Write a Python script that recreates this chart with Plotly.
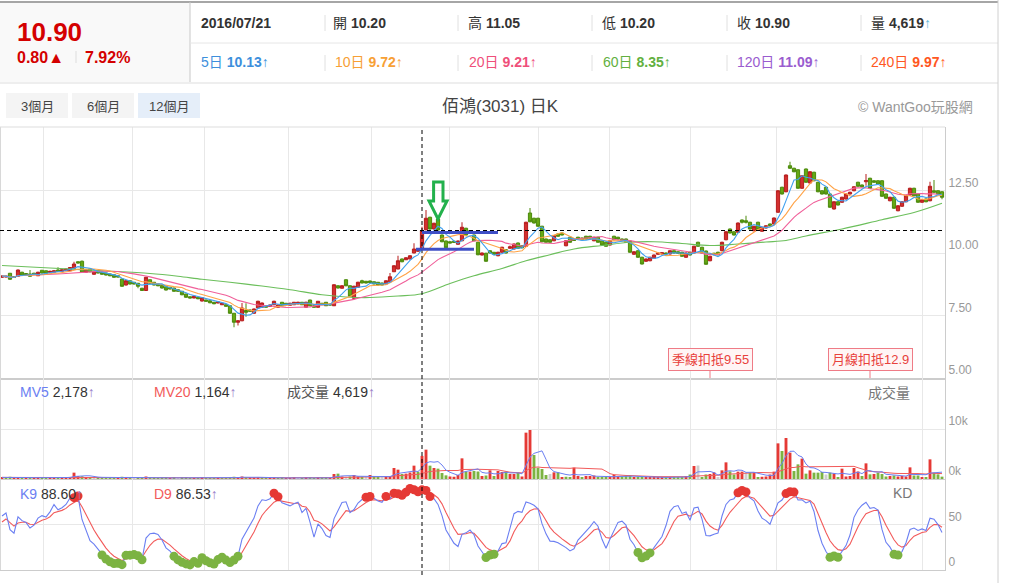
import pandas as pd
import plotly.graph_objects as go
from plotly.subplots import make_subplots

# 佰鴻(3031) daily candles, about one year
opens = [
    9.03, 9.04, 9.19, 9.06, 9.07, 9.23, 9.18, 9.16, 9.19, 9.09,
    9.31, 9.29, 9.22, 9.23, 9.32, 9.27, 9.29, 9.29, 9.39, 9.65,
    9.67, 9.23, 9.36, 9.15, 9.29, 9.23, 9.20, 9.16, 9.13, 9.09,
    8.96, 8.72, 8.89, 8.83, 8.79, 8.59, 8.50, 8.93, 8.83, 8.76,
    8.70, 8.65, 8.63, 8.60, 8.53, 8.47, 8.36, 8.25, 8.20, 8.23,
    8.08, 8.12, 8.09, 8.03, 8.00, 7.93, 7.93, 7.89, 7.59, 7.23,
    7.29, 7.70, 7.72, 7.59, 7.80, 7.83, 7.90, 7.86, 7.93, 7.83,
    8.03, 7.99, 7.91, 7.93, 7.96, 8.03, 7.83, 8.12, 7.89, 7.83,
    7.99, 8.03, 7.96, 7.89, 8.69, 8.59, 8.93, 8.69, 8.19, 8.63,
    8.89, 8.87, 8.88, 8.85, 8.83, 8.80, 8.76, 8.85, 9.25, 9.36,
    9.76, 9.73, 9.76, 10.00, 10.07, 10.20, 10.93, 11.43, 10.96, 11.36,
    10.72, 10.48, 10.45, 10.47, 10.35, 10.49, 10.99, 10.89, 10.72, 10.43,
    9.92, 9.99, 10.09, 10.03, 9.89, 10.03, 10.13, 10.19, 10.16, 10.40,
    10.29, 10.27, 11.60, 11.39, 11.39, 11.07, 10.56, 10.53, 10.49, 10.76,
    10.80, 10.29, 10.63, 10.56, 10.63, 10.60, 10.67, 10.67, 10.49, 10.63,
    10.49, 10.43, 10.32, 10.67, 10.63, 10.56, 10.56, 10.48, 9.95, 10.09,
    9.83, 9.67, 9.69, 9.79, 9.95, 9.96, 10.00, 9.96, 10.09, 10.05,
    10.03, 9.83, 10.03, 10.00, 10.43, 10.23, 10.08, 9.69, 9.99, 10.03,
    10.09, 10.53, 10.96, 10.85, 10.83, 11.32, 11.29, 11.23, 10.89, 11.23,
    10.87, 11.00, 11.16, 11.16, 11.63, 12.63, 12.45, 13.49, 13.39, 13.33,
    12.59, 13.36, 12.80, 13.23, 12.83, 12.49, 12.63, 12.36, 11.76, 12.05,
    12.03, 12.16, 12.36, 12.49, 12.83, 12.72, 12.85, 12.99, 12.89, 12.89,
    12.89, 12.36, 12.09, 12.23, 11.69, 11.87, 12.05, 12.32, 12.59, 12.36,
    12.03, 12.16, 12.09, 12.49, 12.49, 12.45,
]
highs = [
    9.10, 9.10, 9.20, 9.08, 9.34, 9.25, 9.20, 9.32, 9.21, 9.25,
    9.32, 9.30, 9.29, 9.31, 9.43, 9.35, 9.38, 9.44, 9.65, 9.67,
    9.70, 9.34, 9.37, 9.27, 9.30, 9.25, 9.21, 9.18, 9.14, 9.10,
    8.97, 8.91, 8.90, 8.84, 8.80, 8.61, 9.05, 8.94, 8.84, 8.77,
    8.72, 8.66, 8.64, 8.61, 8.54, 8.48, 8.37, 8.26, 8.28, 8.24,
    8.22, 8.13, 8.10, 8.04, 8.06, 8.00, 7.94, 7.90, 7.60, 7.31,
    8.00, 7.99, 7.74, 7.78, 8.09, 8.02, 7.92, 7.94, 8.09, 7.94,
    8.04, 8.00, 8.01, 8.04, 8.05, 8.04, 8.05, 8.13, 7.90, 8.08,
    8.00, 8.04, 7.97, 8.75, 8.71, 8.71, 8.95, 8.70, 8.69, 8.85,
    8.93, 8.88, 8.90, 8.86, 8.84, 8.81, 8.90, 9.20, 9.51, 9.89,
    9.78, 9.83, 9.91, 10.39, 10.12, 11.05, 11.72, 11.45, 11.21, 11.38,
    10.74, 10.50, 10.47, 10.49, 10.50, 11.23, 11.01, 10.91, 10.74, 10.45,
    10.02, 10.01, 10.11, 10.04, 10.05, 10.25, 10.15, 10.30, 10.38, 10.42,
    10.31, 11.25, 11.80, 11.41, 11.41, 11.09, 10.58, 10.55, 10.71, 10.78,
    10.82, 10.51, 10.65, 10.58, 10.65, 10.62, 10.69, 10.69, 10.65, 10.65,
    10.51, 10.45, 10.51, 10.69, 10.65, 10.58, 10.58, 10.50, 10.07, 10.11,
    9.85, 9.78, 9.85, 9.94, 10.02, 10.03, 10.02, 10.11, 10.11, 10.07,
    10.05, 10.02, 10.05, 10.29, 10.45, 10.25, 10.10, 9.89, 10.01, 10.05,
    10.45, 10.87, 10.98, 10.87, 11.22, 11.34, 11.49, 11.25, 11.09, 11.25,
    11.05, 11.11, 11.18, 11.42, 12.51, 12.65, 13.14, 13.65, 13.41, 13.35,
    13.11, 13.38, 13.27, 13.25, 12.85, 12.51, 12.65, 12.38, 12.07, 12.07,
    12.25, 12.38, 12.45, 12.67, 12.85, 12.74, 13.16, 13.01, 12.91, 12.91,
    12.91, 12.38, 12.25, 12.25, 11.91, 12.07, 12.31, 12.61, 12.61, 12.38,
    12.15, 12.18, 12.85, 12.92, 12.51, 12.47,
]
lows = [
    9.00, 9.02, 8.93, 9.00, 9.05, 9.10, 9.12, 9.05, 9.14, 9.08,
    9.18, 9.18, 9.21, 9.22, 9.25, 9.26, 9.28, 9.28, 9.38, 9.58,
    9.21, 9.22, 9.23, 9.13, 9.18, 9.13, 9.10, 9.07, 9.01, 9.02,
    8.65, 8.70, 8.74, 8.74, 8.59, 8.48, 8.48, 8.77, 8.70, 8.67,
    8.58, 8.50, 8.54, 8.45, 8.45, 8.31, 8.21, 8.18, 8.19, 8.15,
    8.06, 8.05, 7.99, 7.95, 7.99, 7.92, 7.85, 7.57, 7.03, 7.10,
    7.27, 7.45, 7.65, 7.57, 7.78, 7.81, 7.81, 7.85, 7.92, 7.82,
    7.87, 7.92, 7.90, 7.92, 7.95, 7.92, 7.82, 7.87, 7.82, 7.82,
    7.92, 7.88, 7.91, 7.88, 8.58, 8.58, 8.67, 8.25, 8.17, 8.62,
    8.79, 8.78, 8.80, 8.75, 8.70, 8.70, 8.75, 8.84, 9.24, 9.35,
    9.63, 9.72, 9.75, 9.99, 10.05, 10.20, 10.91, 10.94, 10.94, 10.90,
    10.43, 10.19, 10.38, 10.41, 10.33, 10.47, 10.70, 10.77, 10.47, 9.91,
    9.90, 9.65, 9.98, 9.93, 9.87, 10.01, 9.98, 10.17, 10.14, 10.17,
    10.19, 10.25, 11.23, 11.18, 11.05, 10.43, 10.41, 10.41, 10.47, 10.65,
    10.70, 10.27, 10.41, 10.48, 10.54, 10.51, 10.54, 10.57, 10.47, 10.41,
    10.30, 10.25, 10.30, 10.51, 10.54, 10.48, 10.41, 10.01, 9.93, 9.81,
    9.54, 9.65, 9.67, 9.77, 9.93, 9.94, 9.94, 9.94, 9.98, 9.97,
    9.85, 9.81, 9.90, 9.98, 10.25, 9.98, 9.53, 9.67, 9.91, 9.91,
    10.07, 10.51, 10.78, 10.70, 10.81, 11.18, 11.18, 10.94, 10.87, 10.91,
    10.85, 10.98, 11.07, 11.14, 11.61, 12.34, 12.43, 13.37, 13.23, 12.57,
    12.57, 12.81, 12.78, 12.87, 12.43, 12.34, 12.34, 11.81, 11.74, 11.90,
    12.01, 12.14, 12.34, 12.47, 12.65, 12.63, 12.69, 12.57, 12.81, 12.74,
    12.25, 12.17, 12.07, 11.77, 11.67, 11.85, 12.03, 12.30, 12.27, 12.01,
    12.01, 12.03, 12.07, 12.41, 12.34, 12.15,
]
closes = [
    9.08, 9.07, 8.95, 9.02, 9.32, 9.12, 9.13, 9.07, 9.16, 9.23,
    9.20, 9.19, 9.27, 9.29, 9.26, 9.33, 9.36, 9.42, 9.56, 9.60,
    9.23, 9.32, 9.25, 9.25, 9.20, 9.15, 9.12, 9.09, 9.03, 9.04,
    8.67, 8.89, 8.76, 8.76, 8.67, 8.50, 9.03, 8.79, 8.72, 8.69,
    8.60, 8.52, 8.56, 8.47, 8.47, 8.33, 8.23, 8.20, 8.27, 8.17,
    8.21, 8.07, 8.01, 7.97, 8.04, 7.99, 7.87, 7.59, 7.23, 7.29,
    7.80, 7.63, 7.67, 7.76, 8.07, 8.00, 7.83, 7.92, 8.07, 7.92,
    7.89, 7.93, 7.99, 8.03, 8.03, 7.93, 8.03, 7.89, 7.83, 8.07,
    7.93, 7.89, 7.92, 8.73, 8.60, 8.69, 8.69, 8.27, 8.67, 8.83,
    8.80, 8.80, 8.82, 8.76, 8.72, 8.72, 8.89, 9.05, 9.49, 9.69,
    9.65, 9.81, 9.89, 10.16, 10.10, 10.90, 11.39, 10.96, 11.19, 10.92,
    10.45, 10.21, 10.40, 10.43, 10.48, 11.03, 10.72, 10.79, 10.49, 9.93,
    10.00, 9.67, 10.00, 9.95, 10.03, 10.23, 10.00, 10.25, 10.36, 10.19,
    10.21, 11.23, 11.25, 11.20, 11.07, 10.45, 10.43, 10.43, 10.69, 10.67,
    10.72, 10.49, 10.43, 10.50, 10.56, 10.53, 10.56, 10.59, 10.63, 10.43,
    10.32, 10.27, 10.49, 10.53, 10.56, 10.50, 10.43, 10.03, 10.05, 9.83,
    9.56, 9.76, 9.83, 9.92, 10.00, 10.01, 9.96, 10.09, 10.00, 9.99,
    9.87, 10.00, 9.92, 10.27, 10.27, 10.00, 9.55, 9.87, 9.93, 9.93,
    10.43, 10.85, 10.80, 10.72, 11.20, 11.23, 11.23, 10.96, 11.07, 10.93,
    11.03, 11.09, 11.10, 11.40, 12.49, 12.36, 13.12, 13.39, 13.25, 12.59,
    13.09, 12.83, 13.25, 12.89, 12.45, 12.36, 12.36, 11.83, 12.05, 11.92,
    12.23, 12.36, 12.43, 12.65, 12.67, 12.65, 12.90, 12.59, 12.83, 12.76,
    12.27, 12.19, 12.23, 11.79, 11.89, 12.05, 12.29, 12.59, 12.29, 12.03,
    12.13, 12.05, 12.67, 12.43, 12.36, 12.23,
]
volumes = [
    320, 280, 450, 260, 380, 300, 220, 260, 240, 350,
    300, 260, 240, 280, 230, 260, 300, 420, 1270, 600,
    550, 400, 350, 330, 300, 280, 250, 230, 300, 220,
    450, 350, 260, 220, 280, 300, 500, 300, 220, 200,
    240, 260, 200, 230, 180, 260, 250, 200, 180, 170,
    240, 190, 200, 180, 160, 170, 190, 320, 450, 300,
    500, 380, 250, 260, 350, 300, 220, 200, 260, 200,
    230, 180, 200, 210, 190, 200, 260, 280, 190, 300,
    220, 250, 200, 1000, 1070, 500, 450, 500, 800, 500,
    450, 400, 800, 500, 400, 350, 600, 500, 2200, 1870,
    1000, 1070, 1300, 2670, 1470, 4619, 5870, 2670, 2200, 2070,
    1200, 730, 500, 450, 800, 4130, 1470, 1470, 1600, 1500,
    600, 700, 1730, 600, 1600, 1400, 1470, 1000, 1000, 1270,
    500, 9270, 9800, 4800, 2270, 2000, 800, 1000, 1330, 1330,
    400, 450, 400, 2270, 600, 300, 600, 600, 700, 400,
    350, 400, 350, 800, 600, 500, 650, 700, 400, 350,
    300, 400, 300, 350, 300, 350, 300, 400, 350, 300,
    400, 600, 900, 2600, 2700, 400, 900, 1000, 1330, 300,
    1730, 3330, 1530, 900, 1470, 1470, 1270, 1270, 1270, 400,
    450, 500, 900, 1470, 7130, 5600, 8200, 5270, 1600, 2930,
    4070, 1070, 1730, 1270, 1270, 1400, 900, 1270, 1100, 400,
    2070, 500, 600, 2200, 1500, 600, 3130, 930, 1000, 1270,
    1000, 500, 600, 700, 500, 600, 500, 2330, 700, 700,
    300, 250, 3930, 1270, 930, 470,
]
# 60-day line read at sample candles (it starts before the window)
ma60_idx = [0, 12, 25, 37, 44, 50, 57, 65, 72, 80, 86, 92, 99, 105, 112, 118, 125,
            131, 137, 143, 150, 157, 163, 170, 177, 184, 191, 196, 201, 210, 220, 228, 235]
ma60_val = [9.50, 9.40, 9.29, 9.18, 9.07, 8.95, 8.83, 8.68, 8.53, 8.33, 8.24, 8.22, 8.28,
            8.37, 8.78, 9.09, 9.38, 9.69, 9.93, 10.16, 10.30, 10.43, 10.45, 10.38, 10.30,
            10.36, 10.44, 10.50, 10.68, 10.96, 11.33, 11.62, 11.99]
month_lines = [10.25, 32.5, 50.5, 71.5, 92.25, 111.75, 134, 151.75, 172, 193.5, 230]

hover_idx = 105  # 2016/07/21
info_date = "2016/07/21"
info_labels = ["開", "高", "低", "收", "量"]
info_values = ["10.20", "11.05", "10.20", "10.90", "4,619"]
ma_labels = ["5日", "10日", "20日", "60日", "120日", "240日"]
ma_values = ["10.13", "9.72", "9.21", "8.35", "11.09", "9.97"]
ma_colors = ["#3d8fdc", "#f7a035", "#ef4f7a", "#62b040", "#9a5ccf", "#ff5722"]
vol_legend = [("MV5", "2,178", "#6b7ff2"), ("MV20", "1,164", "#f25a5a"), ("成交量", "4,619", "#555555")]
kd_legend = [("K9", "88.60", "#6b7ff2"), ("D9", "86.53", "#f25a5a")]
kou_q_idx, kou_q_text = 177, "季線扣抵9.55"
kou_m_idx, kou_m_text = 217, "月線扣抵12.9"

W, H = 1010, 583
FONT = "'Liberation Sans', Arial, 'Noto Sans CJK TC', sans-serif"
RED, GREEN = "#d32f2f", "#66a814"


def px(x):
    return x / W


def py(y):
    return 1 - y / H


n = len(closes)
idx = list(range(n))
c = pd.Series(closes)
ma5 = c.rolling(5, min_periods=1).mean()
ma10 = c.rolling(10, min_periods=1).mean()
ma20 = c.rolling(20, min_periods=1).mean()
v = pd.Series(volumes)
mv5 = v.rolling(5, min_periods=1).mean()
mv20 = v.rolling(20, min_periods=1).mean()

lo9 = pd.Series(lows).rolling(9, min_periods=1).min()
hi9 = pd.Series(highs).rolling(9, min_periods=1).max()
rsv = (c - lo9) / (hi9 - lo9) * 100
k_vals, d_vals = [], []
k_prev, d_prev = 50.0, 50.0
for r in rsv:
    k_prev = k_prev * 2 / 3 + r / 3
    d_prev = d_prev * 2 / 3 + k_prev / 3
    k_vals.append(k_prev)
    d_vals.append(d_prev)

vol_colors = []
for i in range(n):
    prev = closes[i - 1] if i else opens[0]
    if closes[i] > prev:
        vol_colors.append("#e53935")
    elif closes[i] < prev:
        vol_colors.append("#7cb342")
    else:
        vol_colors.append("#cfcfcf")

fig = make_subplots(rows=3, cols=1, shared_xaxes=True, vertical_spacing=0)

fig.add_trace(go.Candlestick(
    x=idx, open=opens, high=highs, low=lows, close=closes,
    increasing=dict(line=dict(color="#b71c1c", width=1), fillcolor=RED),
    decreasing=dict(line=dict(color="#4c8a0c", width=1), fillcolor=GREEN),
    hoverinfo="skip"), row=1, col=1)
fig.add_trace(go.Scatter(x=ma60_idx, y=ma60_val, mode="lines",
                         line=dict(color="#6cbf5c", width=1.2, shape="spline")), row=1, col=1)
for ser, col in ((ma20, "#f0609a"), (ma10, "#ffa347"), (ma5, "#40a0f0")):
    fig.add_trace(go.Scatter(x=idx, y=ser, mode="lines", line=dict(color=col, width=1.1)), row=1, col=1)

fig.add_trace(go.Bar(x=idx, y=volumes, marker_color=vol_colors, marker_line_width=0, width=0.72),
              row=2, col=1)
fig.add_trace(go.Scatter(x=idx, y=mv20, mode="lines", line=dict(color="#f25a5a", width=1)), row=2, col=1)
fig.add_trace(go.Scatter(x=idx, y=mv5, mode="lines", line=dict(color="#6b7ff2", width=1)), row=2, col=1)

fig.add_trace(go.Scatter(x=idx, y=d_vals, mode="lines", line=dict(color="#f25a5a", width=1.1)), row=3, col=1)
fig.add_trace(go.Scatter(x=idx, y=k_vals, mode="lines", line=dict(color="#6b7ff2", width=1.1)), row=3, col=1)
hi_pts = [i for i in idx if k_vals[i] > 80]
lo_pts = [i for i in idx if k_vals[i] < 20]
fig.add_trace(go.Scatter(x=hi_pts, y=[k_vals[i] for i in hi_pts], mode="markers",
                         marker=dict(color="#e53935", size=9)), row=3, col=1)
fig.add_trace(go.Scatter(x=lo_pts, y=[k_vals[i] for i in lo_pts], mode="markers",
                         marker=dict(color="#7cb342", size=9)), row=3, col=1)

fig.update_layout(width=W, height=H, margin=dict(l=0, r=0, t=0, b=0),
                  paper_bgcolor="white", plot_bgcolor="white", showlegend=False,
                  boxgap=0.2, boxgroupgap=0, bargap=0.25,
                  font=dict(family=FONT, size=13, color="#333"))
fig.update_xaxes(range=[-0.5, n - 0.25], domain=[0, px(945)], tickvals=month_lines,
                 showticklabels=False, ticks="", showgrid=True, gridcolor="#e8e8e8",
                 showline=True, linecolor="#cccccc", zeroline=False,
                 rangeslider_visible=False, fixedrange=True)
fig.update_xaxes(linewidth=2, row=1, col=1)
fig.update_yaxes(side="right", showgrid=True, gridcolor="#e8e8e8", zeroline=False,
                 showline=True, linecolor="#cccccc", ticks="", ticklabelshift=-8,
                 tickfont=dict(size=12, color="#999999"), fixedrange=True)
fig.update_yaxes(domain=[py(378), py(127)], range=[5.0, 15.04], tickvals=[5, 7.5, 10, 12.5],
                 ticktext=["5.00", "7.50", "10.00", "12.50"], row=1, col=1)
fig.update_yaxes(domain=[py(479), py(378)], range=[0, 20200], tickvals=[0, 10000],
                 ticktext=["0k", "10k"], row=2, col=1)
fig.update_yaxes(domain=[py(570), py(479)], range=[0, 101], tickvals=[0, 50], row=3, col=1)

shapes = []


def pline(x0, y0, x1, y1, color, width=1):
    shapes.append(dict(type="line", xref="paper", yref="paper", x0=px(x0), y0=py(y0),
                       x1=px(x1), y1=py(y1), line=dict(color=color, width=width)))


def prect(x0, y0, x1, y1, fill):
    shapes.append(dict(type="rect", xref="paper", yref="paper", x0=px(x0), y0=py(y0),
                       x1=px(x1), y1=py(y1), fillcolor=fill, line=dict(width=0), layer="below"))


# header frame
prect(0, 3, 190, 82, "#f9f9f9")
pline(0, 2, 998, 2, "#888888", 1.5)
pline(190, 2, 190, 82, "#c8c8c8")
pline(190, 43, 998, 43, "#e6e6e6")
pline(0, 83, 998, 83, "#dddddd")
pline(998, 0, 998, H, "#d0d0d0")
pline(0.5, 127, 0.5, 570, "#d8d8d8")
pline(0, 127, 945, 127, "#dddddd")
pline(76, 51, 76, 63, "#dddddd")
for sx in (325, 458, 592, 727, 861):
    pline(sx, 15, sx, 31, "#e0e0e0")
    pline(sx, 55, sx, 71, "#e0e0e0")
# range buttons
for bx, fill in ((6, "#f4f4f4"), (72, "#f4f4f4"), (138, "#e5eef9")):
    prect(bx, 93, bx + 62, 118, fill)

# crosshair
shapes.append(dict(type="line", xref="x", yref="paper", x0=hover_idx, x1=hover_idx,
                   y0=py(575), y1=py(127), line=dict(color="black", width=1, dash="4px,3px")))
shapes.append(dict(type="line", xref="x", yref="y", x0=-0.5, x1=n - 0.25,
                   y0=closes[hover_idx], y1=closes[hover_idx],
                   line=dict(color="black", width=1.2, dash="4px,3px")))
# hand-drawn marks
shapes.append(dict(type="line", xref="x", yref="y", x0=105, x1=124, y0=10.82, y1=10.82,
                   line=dict(color="#3f4fc6", width=3)))
shapes.append(dict(type="line", xref="x", yref="y", x0=103.5, x1=118, y0=10.15, y1=10.15,
                   line=dict(color="#3f4fc6", width=3)))
shapes.append(dict(type="path", xref="x", yref="y",
                   path="M 107.9,12.84 L 110.25,12.84 L 110.25,12.08 L 111.25,12.08 "
                        "L 109,11.36 L 106.75,12.08 L 107.9,12.08 Z",
                   line=dict(color="#22b14c", width=3)))
fig.update_layout(shapes=shapes)


def txt(x, y, s, size=14, color="#333333", anchor="left"):
    fig.add_annotation(x=px(x), y=py(y), xref="paper", yref="paper", text=s, showarrow=False,
                       xanchor=anchor, yanchor="middle", font=dict(size=size, color=color, family=FONT))


txt(15, 32, "<b>10.90</b>", 26, "#d40000")
txt(15, 57, "<b>0.80▲</b>", 16, "#d40000")
txt(83, 57, "<b>7.92%</b>", 16, "#d40000")
txt(199, 23, "<b>" + info_date + "</b>", 14, "#333333")
for i, (lab, val) in enumerate(zip(info_labels, info_values)):
    s = lab + " <b>" + val + "</b>"
    if lab == "量":
        s += "<span style='color:#5bb8d8'>↑</span>"
    txt(331 + i * 134.5, 23, s, 14, "#333333")
for i, (lab, val, col) in enumerate(zip(ma_labels, ma_values, ma_colors)):
    txt(199 + i * 134, 62, lab + " <b>" + val + "</b>↑", 14, col)

for bx, lab in ((6, "3個月"), (72, "6個月"), (138, "12個月")):
    txt(bx + 31, 106, lab, 13, "#444444", "center")
txt(500, 106, "佰鴻(3031) 日K", 17, "#444444", "center")
txt(856, 107, "© WantGoo玩股網", 14, "#999999")

for (lab, val, col), lx in zip(vol_legend, (18, 152, 285)):
    txt(lx, 392, "<span style='color:%s'>%s</span> %s<span style='color:#9a7cc8'>↑</span>" % (col, lab, val), 14)
for (lab, val, col), lx in zip(kd_legend, (18, 152)):
    txt(lx, 494, "<span style='color:%s'>%s</span> %s<span style='color:#9a7cc8'>↑</span>" % (col, lab, val), 14)
txt(866, 393, "成交量", 14, "#777777")
txt(891, 493, "KD", 14, "#777777")

for kidx, ktext in ((kou_q_idx, kou_q_text), (kou_m_idx, kou_m_text)):
    fig.add_annotation(x=kidx, y=5.0, xref="x", yref="y", text=ktext, showarrow=True,
                       arrowhead=0, arrowwidth=1, arrowcolor="#ef7b86", ax=0, ay=-19,
                       bgcolor="#fff5f5", bordercolor="#ef7b86", borderwidth=1, borderpad=3,
                       font=dict(size=13, color="#e8413c", family=FONT))

# the page body has a default 8px margin; drop it so the figure sits at the window corner
fig.write_html("out.html", config={"displayModeBar": False},
               post_script="document.body.style.margin='0';")
